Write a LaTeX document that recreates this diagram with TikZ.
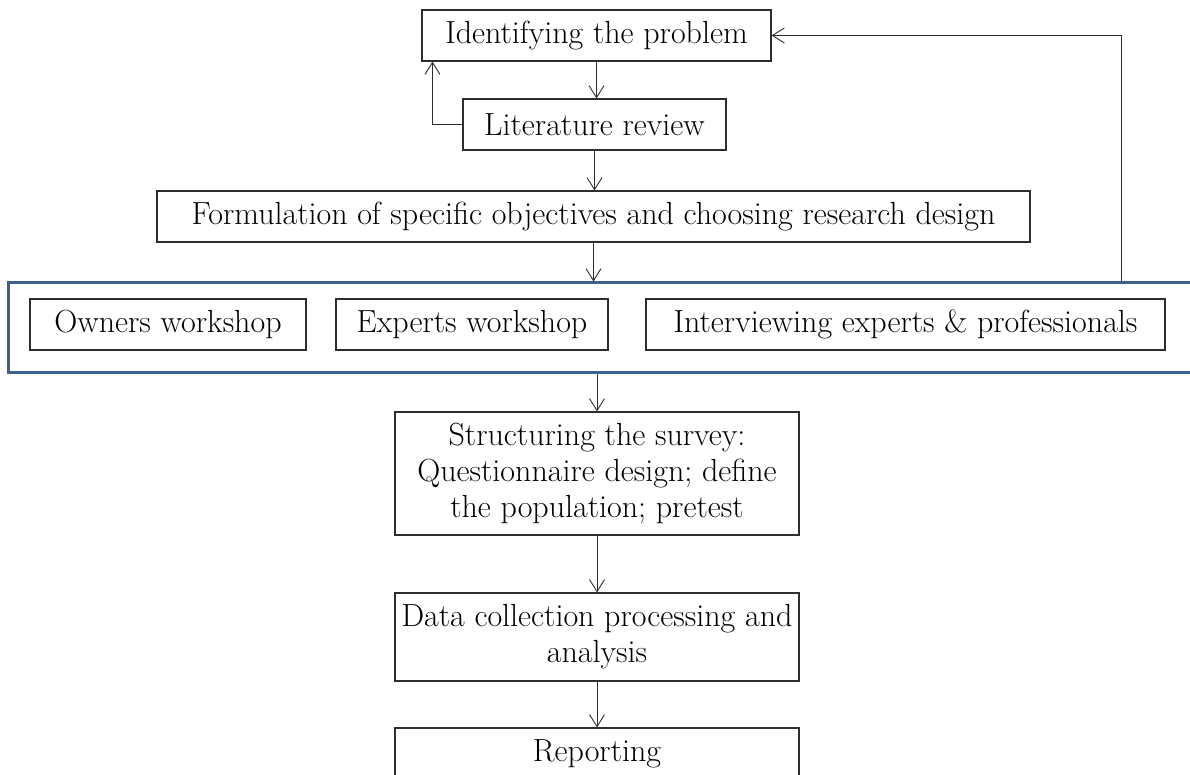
\documentclass[tikz,border=0pt]{standalone}
\usetikzlibrary{arrows.meta}
\definecolor{frameblue}{RGB}{62,96,142}
\definecolor{linegray}{RGB}{45,45,45}
\begin{document}
\begin{tikzpicture}[x=1pt,y=-1pt,
  box/.style={draw=linegray, line width=1.1pt, minimum height=51pt, inner sep=0pt, align=center, font=\fontsize{32}{36}\selectfont},
  groupframe/.style={draw=frameblue, line width=3pt, inner sep=0pt},
  arr/.style={linegray, line width=0.9pt, -{Straight Barb[length=12pt,width=15pt]}}]
\useasboundingbox (0,0) rectangle (1190,775);
\node[box, minimum width=349pt] (ident) at (596.5,35.5) {Identifying the problem};
\node[box, minimum width=263pt] (lit) at (594.5,124.5) {Literature review};
\node[box, minimum width=873pt] (form) at (593.5,216.5) {Formulation of specific objectives and choosing research design};
\node[groupframe, minimum width=1192pt, minimum height=89pt] (group) at (604,327.5) {};
\node[box, minimum width=276pt] (owners) at (168,324.5) {Owners workshop};
\node[box, minimum width=272pt] (experts) at (472,324.5) {Experts workshop};
\node[box, minimum width=519pt] (interv) at (905.5,324.5) {Interviewing experts \& professionals};
\node[box, minimum width=404pt, minimum height=123pt] (struct) at (597,473.5) {Structuring the survey:\\Questionnaire design; define\\the population; pretest};
\node[box, minimum width=404pt, minimum height=88pt] (data) at (597,637) {Data collection processing and\\analysis};
\node[box, minimum width=404pt] (report) at (597,753.5) {Reporting};
\coordinate (back) at (1121,38);

\path[draw,arr] (ident.south) -- (ident.south |- lit.north);
\path[draw,arr] (lit.west) -| ([xshift=11pt]ident.south west);
\path[draw,arr] (lit.south) -- (lit.south |- form.north);
\path[draw,arr] (form.south) -- (form.south |- group.north);
\path[draw,arr] (group.north -| back) |- (ident.east);
\path[draw,arr] (group.south -| struct.north) -- (struct.north);
\path[draw,arr] (struct.south) -- (data.north);
\path[draw,arr] (data.south) -- (report.north);
\end{tikzpicture}
\end{document}
